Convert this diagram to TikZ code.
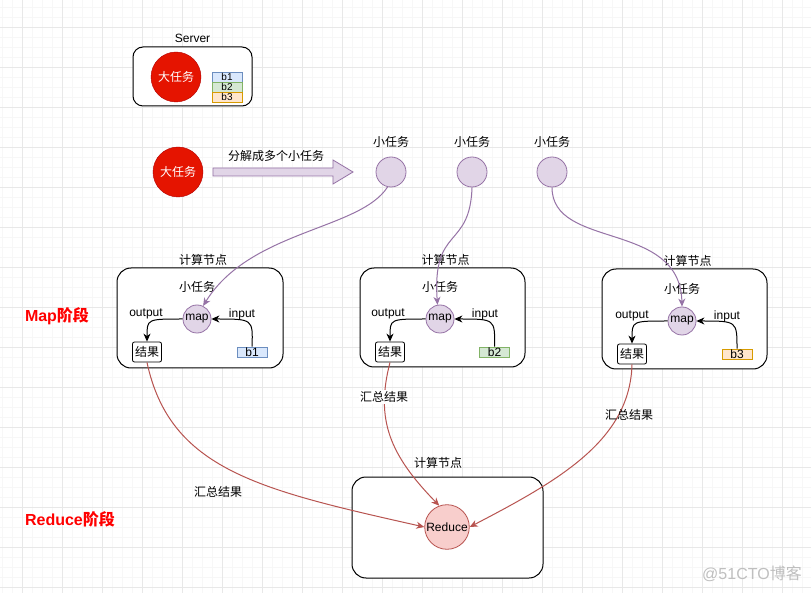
\documentclass[tikz,border=0pt]{standalone}
\usepackage{fontspec}
\setmainfont{Liberation Sans}
\newfontfamily\cjk{Noto Sans CJK SC}
\usepackage{tikz}
\usetikzlibrary{arrows.meta, positioning}

\definecolor{taskfill}{HTML}{E1D5E7}
\definecolor{taskline}{HTML}{9673A6}
\definecolor{bigred}{HTML}{E51400}
\definecolor{bigredline}{HTML}{B20000}
\definecolor{redfill}{HTML}{F8CECC}
\definecolor{redline}{HTML}{B85450}
\definecolor{bluefill}{HTML}{DAE8FC}
\definecolor{blueline}{HTML}{6C8EBF}
\definecolor{greenfill}{HTML}{D5E8D4}
\definecolor{greenline}{HTML}{82B366}
\definecolor{orangefill}{HTML}{FFE6CC}
\definecolor{orangeline}{HTML}{D79B00}
\definecolor{stagered}{HTML}{FF0000}

\tikzset{
>={Stealth[length=8pt,width=7pt,inset=2.5pt]}, % arrow heads like the drawio ones
every node/.style={font=\fontsize{12}{14}\selectfont, inner sep=1pt}, % default text
cn/.style={font=\fontsize{12}{14}\selectfont\cjk}, % chinese labels
panel/.style={draw, line width=1pt, rounded corners=14pt, fill=white}, % compute node frame
bigtask/.style={circle, draw=bigredline, fill=bigred, text=white, minimum size=50pt, cn},
smalltask/.style={circle, draw=taskline, fill=taskfill, line width=0.8pt, minimum size=30pt},
mapnode/.style={smalltask, minimum size=28pt},
reducenode/.style={circle, draw=redline, fill=redfill, line width=0.8pt, minimum size=40pt},
result/.style={draw, line width=0.8pt, rounded corners=2pt, fill=white, minimum width=29pt, minimum height=20pt, inner sep=0pt, cn},
block/.style={draw, line width=0.8pt, minimum width=30pt, minimum height=10pt, inner sep=0pt},
piece/.style={font=\fontsize{10}{10}\selectfont, inner sep=0pt}, % b1..b3 inside the server
stage/.style={text=stagered, font=\fontsize{16}{18}\selectfont\bfseries}, % stage titles
taskedge/.style={->, draw=taskline, line width=1pt},
sumedge/.style={->, draw=redline, line width=1pt},
flowedge/.style={->, line width=1pt},
minorgrid/.style={draw=black!3, line width=0.6pt},
majorgrid/.style={draw=black!9, line width=0.8pt},
}

\begin{document}
\begin{tikzpicture}[x=1pt, y=-1pt]
\useasboundingbox[fill=white] (0,0) rectangle (811,593);

% background grid
\foreach \x in {2,12,...,810} \draw[minorgrid] (\x,0) -- (\x,593);
\foreach \y in {7,17,...,593} \draw[minorgrid] (0,\y) -- (811,\y);
\foreach \x in {22,62,...,810} \draw[majorgrid] (\x,0) -- (\x,593);
\foreach \y in {27,67,...,593} \draw[majorgrid] (0,\y) -- (811,\y);

% server with the big task
\node[panel, rounded corners=10pt, minimum width=119pt, minimum height=59pt] (server) at (192.5,76.5) {};
\node[above=3pt of server] (serverlabel) {Server};
\node[bigtask] (big1) at (176,77) {大任务};
\node[block, fill=bluefill, draw=blueline] (s1) at (227,77) {};
\node[block, fill=greenfill, draw=greenline] (s2) at (227,87) {};
\node[block, fill=orangefill, draw=orangeline] (s3) at (227,97) {};
\node[piece] (s1text) at (s1) {b1};
\node[piece] (s2text) at (s2) {b2};
\node[piece] (s3text) at (s3) {b3};

% split into small tasks
\node[bigtask] (big2) at (178,172) {大任务};
\draw[draw=taskline, fill=taskfill, line width=0.8pt]
  (213,168) -- (333,168) -- (333,160) -- (353,172) -- (333,184) -- (333,176) -- (213,176) -- cycle;
\node[cn] (split) at (276,156) {分解成多个小任务};
\node[smalltask] (t1) at (391,172) {};
\node[smalltask] (t2) at (472,172) {};
\node[smalltask] (t3) at (552,172) {};
\node[cn, above=8pt of t1] (t1label) {小任务};
\node[cn, above=8pt of t2] (t2label) {小任务};
\node[cn, above=8pt of t3] (t3label) {小任务};

% map stage
\node[stage] (maplabel) at (57,316) {Map{\cjk 阶段}};
\node[panel, minimum width=166pt, minimum height=100pt] (box1) at (200,318) {};
\node[panel, minimum width=165pt, minimum height=99pt] (box2) at (442.5,317.5) {};
\node[panel, minimum width=165pt, minimum height=100pt] (box3) at (684.5,319) {};
\node[cn, above=1pt of box1, xshift=3pt] (box1label) {计算节点};
\node[cn, above=1pt of box2, xshift=3pt] (box2label) {计算节点};
\node[cn, above=1pt of box3, xshift=3pt] (box3label) {计算节点};

\node[mapnode] (map1) at (197,319) {map};
\node[mapnode] (map2) at (440,319) {map};
\node[mapnode] (map3) at (682,321) {map};
\node[cn, above=11pt of map1] (m1label) {小任务};
\node[cn, above=11pt of map2] (m2label) {小任务};
\node[cn, above=11pt of map3] (m3label) {小任务};

\node[result] (res1) at (147,352) {结果};
\node[result] (res2) at (390,352) {结果};
\node[result] (res3) at (632,354) {结果};
\node[block, fill=bluefill, draw=blueline, label=center:b1] (b1) at (252,352) {};
\node[block, fill=greenfill, draw=greenline, label=center:b2] (b2) at (494.5,352) {};
\node[block, fill=orangefill, draw=orangeline, label=center:b3] (b3) at (737,354) {};

\node (out1) at (146,314) {output};
\node (out2) at (388,314) {output};
\node (out3) at (632,316) {output};
\node (in1) at (242,314) {input};
\node (in2) at (485,314) {input};
\node (in3) at (727,316) {input};

\draw[flowedge] (map1.west) .. controls (147,319) .. (res1.north);
\draw[flowedge] (map2.west) .. controls (390,319) .. (res2.north);
\draw[flowedge] (map3.west) .. controls (632,321) .. (res3.north);
\draw[flowedge] (b1.north) .. controls (253,319) .. (map1.east);
\draw[flowedge] (b2.north) .. controls (495,319) .. (map2.east);
\draw[flowedge] (b3.north) .. controls (737,321) .. (map3.east);

% small tasks go to the compute nodes
\draw[taskedge] (t1.257) .. controls (360,230) and (250,230) .. (map1.65);
\draw[taskedge] (t2.south) .. controls (470,250) and (432,225) .. (map2.100);
\draw[taskedge] (t3.south) .. controls (552,250) and (680,220) .. (map3.north);

% reduce stage
\node[stage] (reducelabel) at (70,519) {Reduce{\cjk 阶段}};
\node[panel, minimum width=191pt, minimum height=101pt] (box4) at (447.5,527.5) {};
\node[cn] (box4label) at (438,463) {计算节点};
\node[reducenode] (reduce) at (447,527) {Reduce};

\draw[sumedge] (res1.south) .. controls (170,470) and (260,490) .. (reduce.west);
\draw[sumedge] (res2.south) .. controls (375,420) and (390,455) .. (reduce.110);
\draw[sumedge] (res3.south) .. controls (630,440) and (560,480) .. (reduce.east);
\node[cn] (sum1) at (218,492) {汇总结果};
\node[cn, fill=white] (sum2) at (384,397) {汇总结果};
\node[cn] (sum3) at (629,415) {汇总结果};

\node[text=black!25, font=\fontsize{16}{18}\selectfont] (mark) at (752,574) {@51CTO{\cjk 博客}};
\end{tikzpicture}
\end{document}
